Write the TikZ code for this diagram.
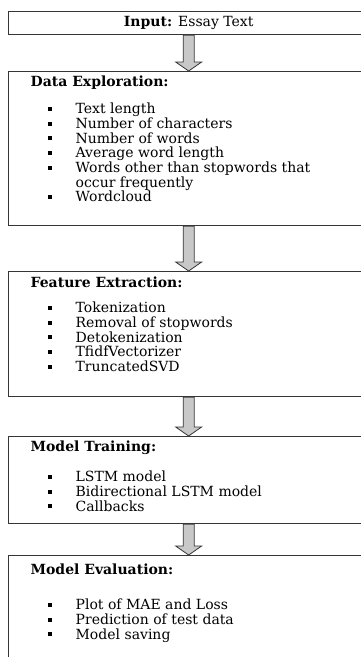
\documentclass[tikz,border=0pt]{standalone}
\usepackage{fontspec}
\setmainfont{DejaVu Serif}
\definecolor{boxline}{HTML}{363636}
\definecolor{arrowfill}{HTML}{C8C8C8}

% heading and bullet lines inside a stage box
\newcommand{\stephead}[2]{\rule{0pt}{#1}\hspace*{22pt}\textbf{#2}}
\newcommand{\stepitem}[1]{\hspace*{39pt}\rule[2.8pt]{4pt}{4pt}\hspace*{24pt}#1}

\tikzset{
  stage/.style={draw=boxline, line width=1.3pt, anchor=north west, inner sep=0pt,
    font=\fontsize{14}{14.7}\selectfont},
  flowarrow/.style={draw=boxline, line width=0.8pt, fill=arrowfill,
    to path={([xshift=-5.5pt]\tikztostart) -- ([xshift=-5.5pt,yshift=9pt]\tikztotarget)
      -- ([xshift=-13pt,yshift=9pt]\tikztotarget) -- (\tikztotarget)
      -- ([xshift=13pt,yshift=9pt]\tikztotarget) -- ([xshift=5.5pt,yshift=9pt]\tikztotarget)
      -- ([xshift=5.5pt]\tikztostart) -- cycle}}
}

\begin{document}
\begin{tikzpicture}[x=1pt, y=-1pt]
\useasboundingbox (0,0) rectangle (361,657);
\clip (0,0) rectangle (361,657);

\node[stage, minimum width=360pt, minimum height=23pt] (inp) at (8,11) {\textbf{Input:} Essay Text};

\node[stage] (expl) at (8,71) {\parbox[t][154pt][t]{360pt}{%
\stephead{15pt}{Data Exploration:}\\[12.3pt]
\stepitem{Text length}\\
\stepitem{Number of characters}\\
\stepitem{Number of words}\\
\stepitem{Average word length}\\
\stepitem{Words other than stopwords that}\\
\hspace*{67pt}occur frequently\\
\stepitem{Wordcloud}}};

\node[stage] (feat) at (8,271) {\parbox[t][125pt][t]{360pt}{%
\stephead{16pt}{Feature Extraction:}\\[10.3pt]
\stepitem{Tokenization}\\
\stepitem{Removal of stopwords}\\
\stepitem{Detokenization}\\
\stepitem{TfidfVectorizer}\\
\stepitem{TruncatedSVD}}};

\node[stage] (train) at (8,436) {\parbox[t][87pt][t]{360pt}{%
\stephead{15pt}{Model Training:}\\[15.3pt]
\stepitem{LSTM model}\\
\stepitem{Bidirectional LSTM model}\\
\stepitem{Callbacks}}};

\node[stage] (eval) at (8,555) {\parbox[t][130pt][t]{360pt}{%
\stephead{19pt}{Model Evaluation:}\\[20.3pt]
\stepitem{Plot of MAE and Loss}\\
\stepitem{Prediction of test data}\\
\stepitem{Model saving}}};

% block arrows between the stages
\draw[flowarrow] (inp.south) to (expl.north);
\draw[flowarrow] (expl.south) to (feat.north);
\draw[flowarrow] (feat.south) to (train.north);
\draw[flowarrow] (train.south) to (eval.north);
\end{tikzpicture}
\end{document}
